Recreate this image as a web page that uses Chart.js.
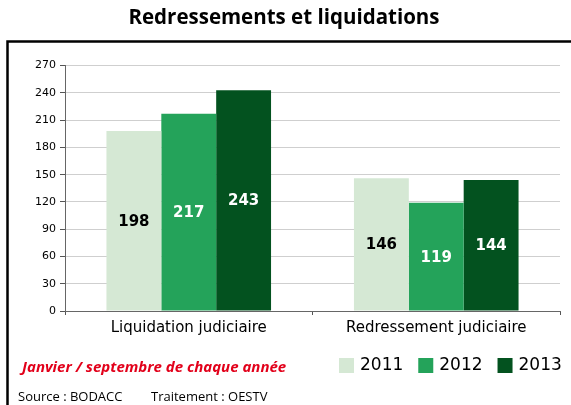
<!DOCTYPE html>
<html>
<head>
<meta charset="utf-8">
<script src="https://cdn.jsdelivr.net/npm/chart.js@4/dist/chart.umd.min.js"></script>
<style>
  html, body { margin: 0; padding: 0; background: #fff; }
  #wrap { width: 571px; height: 405px; }
</style>
</head>
<body>
<div id="wrap"><canvas id="chart" width="571" height="405"></canvas></div>
<script>
// values
var categories = ['Liquidation judiciaire', 'Redressement judiciaire'];
var years = ['2011', '2012', '2013'];
var values2011 = [198, 146];
var values2012 = [217, 119];
var values2013 = [243, 144];
var yTicks = [0, 30, 60, 90, 120, 150, 180, 210, 240, 270];

var barColors = ['#d5e8d4', '#24a35a', '#03521f'];
var labelColors = ['#000000', '#ffffff', '#ffffff'];

// value labels in the middle of each bar
var barLabels = {
    id: 'barLabels',
    afterDatasetsDraw: function (chart) {
        var ctx = chart.ctx;
        ctx.save();
        ctx.font = 'bold 15px "DejaVu Sans"';
        ctx.textAlign = 'center';
        ctx.textBaseline = 'middle';
        chart.data.datasets.forEach(function (ds, i) {
            var meta = chart.getDatasetMeta(i);
            meta.data.forEach(function (bar, j) {
                ctx.fillStyle = labelColors[i];
                ctx.fillText(String(ds.data[j]), bar.x, (bar.y + bar.base) / 2 + 1);
            });
        });
        ctx.restore();
    }
};

// frame, legend, note and source
var decorations = {
    id: 'decorations',
    afterDraw: function (chart) {
        var ctx = chart.ctx;
        ctx.save();
        ctx.strokeStyle = '#000';
        ctx.lineWidth = 2.5;
        ctx.beginPath();
        ctx.moveTo(7.5, 420);
        ctx.lineTo(7.5, 41.5);
        ctx.lineTo(580, 41.5);
        ctx.stroke();

        // legend
        ctx.font = '17px "DejaVu Sans"';
        ctx.textBaseline = 'middle';
        ctx.textAlign = 'left';
        var x = 339;
        chart.data.datasets.forEach(function (ds) {
            ctx.fillStyle = ds.backgroundColor;
            ctx.fillRect(x, 358, 15, 15);
            ctx.fillStyle = '#000';
            ctx.fillText(ds.label, x + 21, 366);
            x += 21 + ctx.measureText(ds.label).width + 15;
        });

        ctx.font = 'italic bold 15px "Open Sans"';
        ctx.fillStyle = '#e2001a';
        ctx.fillText('Janvier / septembre de chaque année', 22, 368);

        ctx.font = '13px "Open Sans"';
        ctx.fillStyle = '#000';
        ctx.fillText('Source : BODACC', 18, 397);
        ctx.fillText('Traitement : OESTV', 151, 397);
        ctx.restore();
    }
};

new Chart(document.getElementById('chart'), {
    type: 'bar',
    data: {
        labels: categories,
        datasets: [
            { label: years[0], data: values2011, backgroundColor: barColors[0] },
            { label: years[1], data: values2012, backgroundColor: barColors[1] },
            { label: years[2], data: values2013, backgroundColor: barColors[2] }
        ]
    },
    options: {
        responsive: false,
        animation: false,
        devicePixelRatio: 1,
        layout: { padding: { left: 8, right: 11, top: 0, bottom: 67 } },
        datasets: { bar: { categoryPercentage: 0.665, barPercentage: 1.0 } },
        plugins: {
            legend: { display: false },
            tooltip: { enabled: false },
            title: {
                display: true,
                text: 'Redressements et liquidations',
                color: '#000',
                font: { family: '"Open Sans"', size: 20.5, weight: 'bold' },
                padding: { top: 6, bottom: 35 }
            }
        },
        scales: {
            x: {
                grid: { drawOnChartArea: false, tickLength: 4, color: '#555', offset: true },
                border: { color: '#666' },
                ticks: { color: '#000', font: { family: '"DejaVu Sans"', size: 15 }, padding: 4 },
                afterFit: function (s) { s.height = 27; }
            },
            y: {
                min: 0,
                max: 270,
                afterBuildTicks: function (s) { s.ticks = yTicks.map(function (v) { return { value: v }; }); },
                grid: { color: '#cfcfcf', tickColor: '#555', tickLength: 5 },
                border: { color: '#666' },
                ticks: { color: '#000', font: { family: '"DejaVu Sans"', size: 11 }, padding: 4 },
                afterFit: function (s) { s.width = 57; }
            }
        }
    },
    plugins: [barLabels, decorations]
});
</script>
</body>
</html>
